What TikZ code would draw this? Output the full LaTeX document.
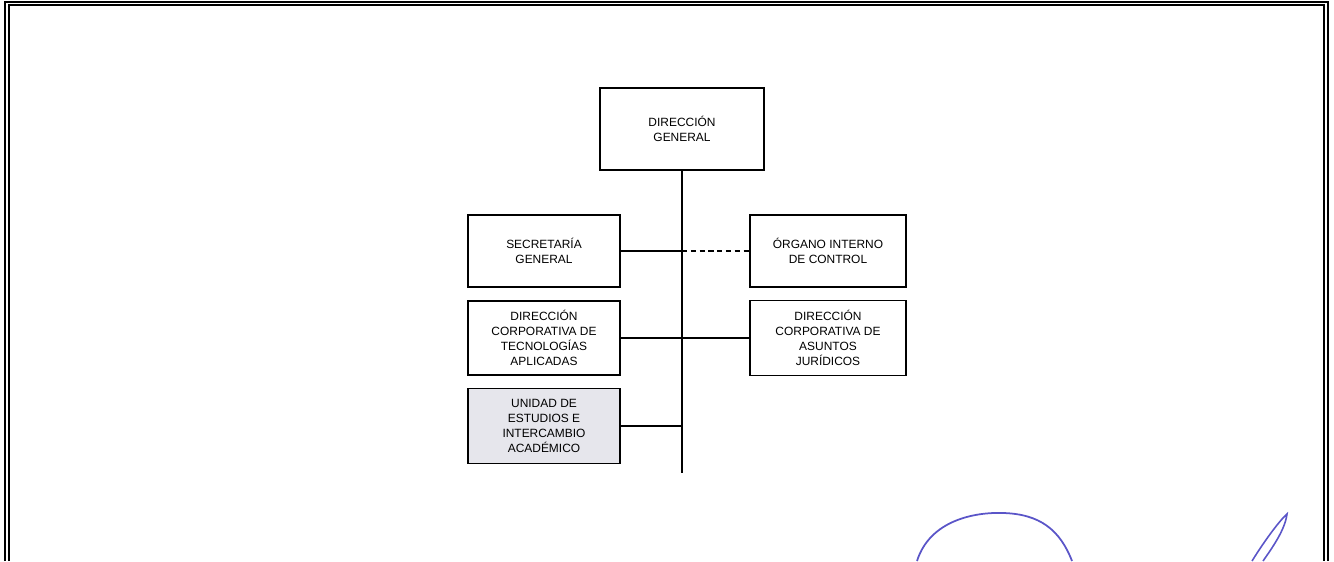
\documentclass[tikz,border=0pt]{standalone}
\usepackage{fontspec}
\setmainfont{Liberation Sans}
\definecolor{unidadgris}{HTML}{E6E6EC}
\definecolor{firma}{HTML}{5A55C8}
\begin{document}
\begin{tikzpicture}[x=0.02cm,y=-0.02cm,
    caja/.style={draw,line width=1.1pt,align=center,inner sep=0pt,
        font=\fontsize{6.8}{8.4}\selectfont},
    linea/.style={line width=0.6pt}]
                \useasboundingbox (0,0) rectangle (1334,561);
                % marco
                \draw[line width=1.2pt] (5,561) -- (5,2) -- (1328,2) -- (1328,561);
                \draw[line width=0.6pt] (9,561) -- (9,5) -- (1324,5) -- (1324,561);
                % cajas
                \node[caja,minimum width=3.28cm,minimum height=1.64cm] (dg) at (682,129) {DIRECCIÓN\\GENERAL};
                \node[caja,minimum width=3.04cm,minimum height=1.44cm] (sg) at (544,251) {SECRETARÍA\\GENERAL};
                \node[caja,minimum width=3.12cm,minimum height=1.44cm] (oic) at (828,251) {ÓRGANO INTERNO\\DE CONTROL};
                \node[caja,minimum width=3.04cm,minimum height=1.48cm] (dcta) at (544,338) {DIRECCIÓN\\CORPORATIVA DE\\TECNOLOGÍAS\\APLICADAS};
                \node[caja,minimum width=3.12cm,minimum height=1.5cm] (dcaj) at (828,338) {DIRECCIÓN\\CORPORATIVA DE\\ASUNTOS\\JURÍDICOS};
                \node[caja,fill=unidadgris,minimum width=3.04cm,minimum height=1.5cm] (ueia) at (544,426) {UNIDAD DE\\ESTUDIOS E\\INTERCAMBIO\\ACADÉMICO};
                \coordinate (fin) at (682,473);
                \coordinate (e1) at (682,251);
                \coordinate (e3) at (682,426);
                % lineas
                \draw[linea] (dg.south) -- (fin);
                \draw[linea] (sg.east) -- (e1);
                \draw[linea,dashed,dash pattern=on 3pt off 2pt] (e1) -- (oic.west);
                \draw[linea] (dcta.east) -- (dcaj.west);
                \draw[linea] (ueia.east) -- (e3);
                % firma
                \draw[firma,line width=1pt] (917,561) .. controls (930,520) and (975,512) .. (1003,513)
                    .. controls (1040,514) and (1060,530) .. (1072,561);
                \draw[firma,line width=0.9pt] (1252,561) .. controls (1265,540) and (1280,520) .. (1287,514)
                    .. controls (1285,530) and (1272,548) .. (1263,561);
            \end{tikzpicture}
\end{document}
